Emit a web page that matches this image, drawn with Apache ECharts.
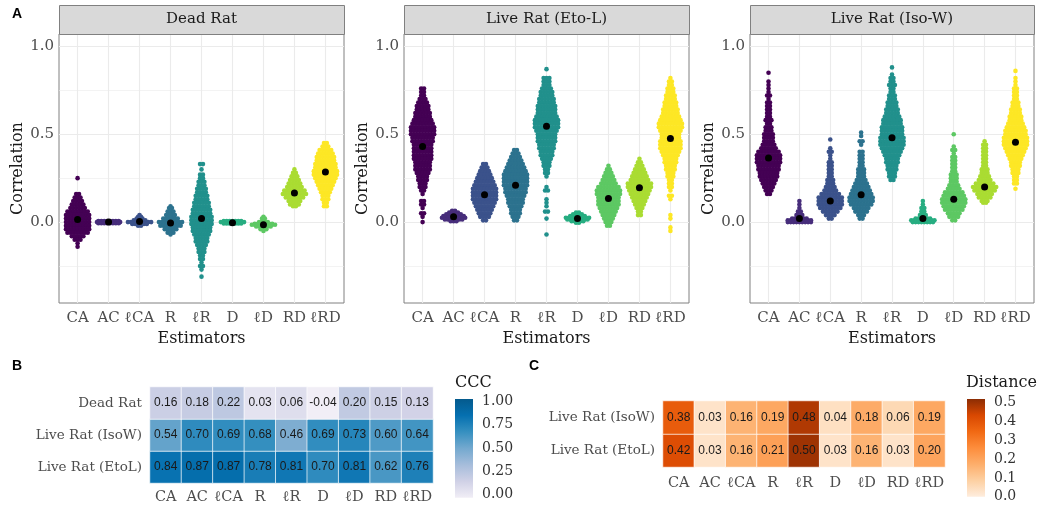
<!DOCTYPE html>
<html><head><meta charset="utf-8">
<script src="https://cdn.jsdelivr.net/npm/echarts@6/dist/echarts.min.js"></script>
<style>html,body{margin:0;padding:0;background:#fff}#c{width:1037px;height:508px}</style>
</head><body><div id="c"></div><script>
// ---------- data ----------
const estimators = ['CA','AC','ℓCA','R','ℓR','D','ℓD','RD','ℓRD'];
const facets = ['Dead Rat','Live Rat (Eto-L)','Live Rat (Iso-W)'];
const viridis9 = ['#440154','#472D7B','#3B528B','#2C728E','#21908C','#27AD81','#5DC863','#AADC32','#FDE725'];
const corrTicks = [0, 0.5, 1.0];
const corrGrid = [-0.25, 0, 0.25, 0.5, 0.75, 1.0];

const meanDead = [0.015, 0.0, 0.003, -0.005, 0.02, -0.003, -0.015, 0.165, 0.285];
const meanEto  = [0.43, 0.03, 0.155, 0.21, 0.545, 0.02, 0.135, 0.195, 0.475];
const meanIso  = [0.365, 0.02, 0.12, 0.155, 0.48, 0.02, 0.13, 0.20, 0.455];

// each swarm: rows of [correlation value, number of points at that value]
const swarmDead = [
  [[0.25,1],[0.16,2],[0.14,3],[0.12,4],[0.10,5],[0.08,6],[0.06,8],[0.04,9],[0.02,9],[0.0,9],[-0.02,9],[-0.04,9],[-0.06,8],[-0.08,5],[-0.10,3],[-0.12,1],[-0.14,1]],
  [[0.006,8],[0.0,9],[-0.006,8]],
  [[0.04,1],[0.03,2],[0.02,3],[0.01,5],[0.0,9],[-0.01,6],[-0.02,2]],
  [[0.09,1],[0.08,2],[0.06,3],[0.04,4],[0.02,6],[0.0,9],[-0.02,8],[-0.04,5],[-0.06,3],[-0.07,1]],
  [[0.33,2],[0.30,1],[0.27,2],[0.25,2],[0.23,3],[0.21,3],[0.19,4],[0.17,4],[0.15,5],[0.13,5],[0.11,6],[0.09,6],[0.07,7],[0.05,7],[0.03,8],[0.01,8],[-0.01,8],[-0.03,7],[-0.05,7],[-0.07,6],[-0.09,5],[-0.11,5],[-0.13,4],[-0.15,3],[-0.17,3],[-0.19,2],[-0.21,2],[-0.23,1],[-0.25,2],[-0.27,1],[-0.31,1]],
  [[0.006,7],[0.0,9],[-0.008,7]],
  [[0.03,1],[0.02,2],[0.0,4],[-0.01,7],[-0.015,9],[-0.025,6],[-0.04,3],[-0.05,1]],
  [[0.30,1],[0.28,2],[0.26,3],[0.24,4],[0.22,5],[0.20,6],[0.18,8],[0.16,9],[0.14,7],[0.12,5],[0.10,4],[0.09,2]],
  [[0.45,2],[0.43,3],[0.41,5],[0.39,6],[0.37,7],[0.35,7],[0.33,8],[0.31,8],[0.29,9],[0.27,9],[0.25,8],[0.23,7],[0.21,6],[0.19,5],[0.17,4],[0.15,3],[0.13,3],[0.11,2],[0.09,2]]
];
const swarmEto = [
  [[0.76,2],[0.74,2],[0.72,2],[0.70,3],[0.68,4],[0.66,5],[0.64,5],[0.62,6],[0.60,6],[0.58,7],[0.56,8],[0.54,9],[0.52,9],[0.50,9],[0.48,8],[0.46,8],[0.44,7],[0.42,7],[0.40,7],[0.38,7],[0.36,7],[0.34,6],[0.32,6],[0.30,6],[0.28,5],[0.26,4],[0.24,4],[0.22,3],[0.20,3],[0.18,2],[0.16,1],[0.12,2],[0.10,2],[0.08,1],[0.05,2],[0.03,1],[0.0,1]],
  [[0.065,2],[0.055,4],[0.045,6],[0.035,8],[0.025,9],[0.015,7],[0.005,3]],
  [[0.33,2],[0.31,3],[0.29,4],[0.27,5],[0.25,6],[0.23,7],[0.21,8],[0.19,9],[0.17,9],[0.15,9],[0.13,9],[0.11,8],[0.09,7],[0.07,6],[0.05,5],[0.03,4],[0.01,2]],
  [[0.41,2],[0.39,3],[0.37,4],[0.35,5],[0.33,6],[0.31,7],[0.29,8],[0.27,9],[0.25,9],[0.23,9],[0.21,9],[0.19,8],[0.17,8],[0.15,7],[0.13,6],[0.11,6],[0.09,5],[0.07,4],[0.05,4],[0.03,3],[0.01,2]],
  [[0.87,1],[0.82,3],[0.80,3],[0.78,3],[0.76,4],[0.74,5],[0.72,5],[0.70,6],[0.68,6],[0.66,7],[0.64,7],[0.62,7],[0.60,8],[0.58,9],[0.56,9],[0.54,9],[0.52,8],[0.50,7],[0.48,7],[0.46,7],[0.44,6],[0.42,6],[0.40,5],[0.38,5],[0.36,4],[0.34,3],[0.32,3],[0.30,2],[0.28,2],[0.26,1],[0.20,1],[0.18,2],[0.13,1],[0.11,1],[0.09,1],[0.06,2],[0.02,1],[-0.07,1]],
  [[0.055,2],[0.045,4],[0.035,6],[0.025,9],[0.015,8],[0.005,5],[-0.003,2]],
  [[0.32,1],[0.30,2],[0.28,3],[0.26,4],[0.24,5],[0.22,6],[0.20,8],[0.18,9],[0.16,9],[0.14,8],[0.12,8],[0.10,8],[0.08,7],[0.06,6],[0.04,5],[0.02,4],[0.0,3],[-0.02,2]],
  [[0.36,1],[0.34,2],[0.32,3],[0.30,4],[0.28,5],[0.26,6],[0.24,7],[0.22,9],[0.20,9],[0.18,8],[0.16,7],[0.14,6],[0.12,5],[0.10,4],[0.08,3],[0.06,2],[0.04,2]],
  [[0.82,1],[0.80,2],[0.78,2],[0.76,3],[0.74,3],[0.72,4],[0.70,4],[0.68,5],[0.66,5],[0.64,6],[0.62,6],[0.60,7],[0.58,8],[0.56,9],[0.54,9],[0.52,8],[0.50,7],[0.48,7],[0.46,8],[0.44,8],[0.42,8],[0.40,7],[0.38,6],[0.36,5],[0.34,5],[0.32,4],[0.30,4],[0.28,3],[0.26,3],[0.24,2],[0.22,2],[0.20,2],[0.18,1],[0.15,2],[0.13,1],[0.04,1],[0.02,1],[-0.03,1],[-0.05,1]]
];
const swarmIso = [
  [[0.85,1],[0.80,1],[0.78,1],[0.76,1],[0.74,1],[0.72,2],[0.70,1],[0.68,2],[0.66,2],[0.64,2],[0.62,2],[0.60,2],[0.58,3],[0.56,2],[0.54,3],[0.52,3],[0.50,4],[0.48,4],[0.46,4],[0.44,5],[0.42,6],[0.40,8],[0.38,9],[0.36,9],[0.34,9],[0.32,8],[0.30,8],[0.28,7],[0.26,7],[0.24,6],[0.22,5],[0.20,4],[0.18,3],[0.16,2]],
  [[0.12,1],[0.10,1],[0.08,1],[0.06,2],[0.04,3],[0.02,6],[0.01,9],[0.0,9]],
  [[0.47,1],[0.42,1],[0.40,2],[0.38,1],[0.36,1],[0.34,2],[0.32,2],[0.30,2],[0.28,2],[0.26,2],[0.24,3],[0.22,3],[0.20,4],[0.18,5],[0.16,7],[0.14,9],[0.12,9],[0.10,9],[0.08,8],[0.06,6],[0.04,4],[0.02,2]],
  [[0.51,1],[0.49,1],[0.46,2],[0.44,1],[0.40,2],[0.38,2],[0.36,2],[0.34,2],[0.32,2],[0.30,3],[0.28,3],[0.26,3],[0.24,4],[0.22,5],[0.20,6],[0.18,7],[0.16,8],[0.14,9],[0.12,9],[0.10,8],[0.08,6],[0.06,5],[0.04,3],[0.02,2]],
  [[0.88,1],[0.84,1],[0.82,2],[0.80,2],[0.78,3],[0.76,2],[0.74,2],[0.72,3],[0.70,3],[0.68,4],[0.66,4],[0.64,5],[0.62,5],[0.60,6],[0.58,7],[0.56,7],[0.54,8],[0.52,8],[0.50,8],[0.48,9],[0.46,9],[0.44,9],[0.42,8],[0.40,7],[0.38,6],[0.36,5],[0.34,5],[0.32,4],[0.30,4],[0.28,3],[0.26,3],[0.24,2]],
  [[0.12,1],[0.10,1],[0.08,2],[0.06,2],[0.04,3],[0.02,6],[0.01,9],[0.0,8]],
  [[0.50,1],[0.43,1],[0.41,2],[0.39,1],[0.37,2],[0.35,2],[0.33,2],[0.31,2],[0.29,2],[0.27,3],[0.25,3],[0.23,3],[0.21,4],[0.19,5],[0.17,7],[0.15,8],[0.13,9],[0.11,9],[0.09,8],[0.07,7],[0.05,5],[0.03,4],[0.01,2]],
  [[0.46,1],[0.44,2],[0.42,2],[0.40,2],[0.38,2],[0.36,2],[0.34,2],[0.32,2],[0.30,3],[0.28,3],[0.26,4],[0.24,5],[0.22,7],[0.20,9],[0.18,8],[0.16,6],[0.14,5],[0.12,3],[0.11,2]],
  [[0.86,1],[0.82,1],[0.80,1],[0.78,1],[0.76,2],[0.74,2],[0.72,2],[0.70,2],[0.68,3],[0.66,3],[0.64,4],[0.62,4],[0.60,5],[0.58,5],[0.56,6],[0.54,7],[0.52,8],[0.50,8],[0.48,9],[0.46,9],[0.44,9],[0.42,8],[0.40,7],[0.38,6],[0.36,5],[0.34,4],[0.32,4],[0.30,3],[0.28,3],[0.26,2],[0.24,2],[0.22,2],[0.19,1]]
];

// heatmap B (CCC), rows listed bottom-to-top
const cccRows = ['Live Rat (EtoL)','Live Rat (IsoW)','Dead Rat'];
const cccEto  = [0.84,0.87,0.87,0.78,0.81,0.70,0.81,0.62,0.76];
const cccIso  = [0.54,0.70,0.69,0.68,0.46,0.69,0.73,0.60,0.64];
const cccDead = [0.16,0.18,0.22,0.03,0.06,-0.04,0.20,0.15,0.13];
const cccTicks = [0, 0.25, 0.5, 0.75, 1.0];
// heatmap C (Distance), rows listed bottom-to-top
const distRows = ['Live Rat (EtoL)','Live Rat (IsoW)'];
const distEto = [0.42,0.03,0.16,0.21,0.50,0.03,0.16,0.03,0.20];
const distIso = [0.38,0.03,0.16,0.19,0.48,0.04,0.18,0.06,0.19];
const distTicks = [0, 0.1, 0.2, 0.3, 0.4, 0.5];

// ---------- styling ----------
const SERIF = 'DejaVu Serif';
const SANS = 'Liberation Sans';
const DOT_STEP = 2.9, DOT_SIZE = 4.6;
const cccColors = ['#F1EEF6','#D0D1E6','#A6BDDB','#74A9CF','#3690C0','#0570B0','#045A8D'];
const cccRange = [-0.04, 1.03];
const distColors = ['#FEEDDE','#FDD0A2','#FDAE6B','#FD8D3C','#F16913','#D94801','#8C2D04'];
const distRange = [0, 0.52];
const BORDER = '#808080';

function gradient(cols){
  return {type:'linear', x:0, y:0, x2:0, y2:1,
    colorStops: cols.slice().reverse().map((c,i,a)=>({offset:i/(a.length-1), color:c}))};
}

const facetLeft = [59, 404, 750], facetW = [285, 285, 284];
const PT = 34, PH = 269;
const grids = [], xAxes = [], yAxes = [], series = [], graphics = [];

[swarmDead, swarmEto, swarmIso].forEach((sw, fi) => {
  const means = [meanDead, meanEto, meanIso][fi];
  grids.push({left:facetLeft[fi], top:PT, width:facetW[fi], height:PH, show:true,
    borderColor:BORDER, borderWidth:1, backgroundColor:'#fff'});
  const idx = estimators.map((_, i) => i);
  xAxes.push({type:'value', gridIndex:fi, min:-0.6, max:8.6,
    name:'Estimators', nameLocation:'middle', nameGap:28,
    nameTextStyle:{fontFamily:SERIF, fontSize:16, color:'#1a1a1a'},
    axisLine:{show:false}, splitLine:{show:false},
    axisTick:{show:true, length:3, lineStyle:{color:'#333'}, customValues:idx},
    axisLabel:{customValues:idx, formatter:v => estimators[Math.round(v)],
      fontFamily:SERIF, fontSize:15, color:'#4D4D4D', margin:8}});
  yAxes.push({type:'value', gridIndex:fi, min:-0.46, max:1.07,
    name:'Correlation', nameLocation:'middle', nameGap:27, nameRotate:90,
    nameTextStyle:{fontFamily:SERIF, fontSize:16, color:'#1a1a1a'},
    axisLine:{show:false}, splitLine:{show:false},
    axisTick:{show:true, length:3, lineStyle:{color:'#333'}, customValues:corrTicks},
    axisLabel:{customValues:corrTicks, formatter:v => v.toFixed(1),
      fontFamily:SERIF, fontSize:15, color:'#4D4D4D', margin:5}});

  const items = [];
  sw.forEach((rows, ci) => {
    rows.forEach(([v, n]) => {
      for (let k = 0; k < n; k++) {
        items.push({value:[ci, v], symbolOffset:[(k - (n - 1) / 2) * DOT_STEP, 0],
          itemStyle:{color:viridis9[ci], opacity:1}});
      }
    });
  });
  const gl = [];
  corrGrid.forEach(v => gl.push({yAxis:v, lineStyle:{color:'#EBEBEB', width:(v*4)%2===0?1.1:0.6, type:'solid'}}));
  idx.forEach(i => gl.push({xAxis:i, lineStyle:{color:'#EBEBEB', width:1.1, type:'solid'}}));
  series.push({type:'scatter', xAxisIndex:fi, yAxisIndex:fi, data:items, symbol:'circle',
    symbolSize:DOT_SIZE, z:3, progressive:0, silent:true, itemStyle:{opacity:1},
    markLine:{silent:true, symbol:'none', z:1, label:{show:false}, animation:false, data:gl}});
  series.push({type:'scatter', xAxisIndex:fi, yAxisIndex:fi, z:4, silent:true,
    data:means.map((m, i) => [i, m]), symbolSize:7, itemStyle:{color:'#000', opacity:1}});

  graphics.push({type:'rect', left:facetLeft[fi], top:5,
    shape:{width:facetW[fi], height:PT - 5}, style:{fill:'#D9D9D9', stroke:BORDER, lineWidth:1}, z:10});
  graphics.push({type:'text', x:facetLeft[fi] + facetW[fi] / 2, y:5 + (PT - 5) / 2, z:11,
    style:{text:facets[fi], fontFamily:SERIF, fontSize:15, fill:'#1a1a1a', align:'center', verticalAlign:'middle'}});
});

// heatmap B
grids.push({left:150, top:387, width:283, height:96});
xAxes.push({type:'category', gridIndex:3, data:estimators, axisLine:{show:false}, axisTick:{show:false},
  splitLine:{show:false}, axisLabel:{interval:0, fontFamily:SERIF, fontSize:14.5, color:'#4D4D4D', margin:7}});
yAxes.push({type:'category', gridIndex:3, data:cccRows, axisLine:{show:false}, axisTick:{show:false},
  splitLine:{show:false}, axisLabel:{interval:0, fontFamily:SERIF, fontSize:13.5, color:'#4D4D4D', margin:8}});
const heatB = [];
[cccEto, cccIso, cccDead].forEach((row, ri) => row.forEach((v, ci) => heatB.push([ci, ri, v])));
series.push({type:'heatmap', xAxisIndex:3, yAxisIndex:3, data:heatB, silent:true,
  itemStyle:{borderColor:'#fff', borderWidth:0.7},
  label:{show:true, formatter:p => p.value[2].toFixed(2), fontFamily:SANS, fontSize:12, color:'#1a1a1a'}});

// heatmap C
grids.push({left:663, top:401, width:282, height:66});
xAxes.push({type:'category', gridIndex:4, data:estimators, axisLine:{show:false}, axisTick:{show:false},
  splitLine:{show:false}, axisLabel:{interval:0, fontFamily:SERIF, fontSize:14.5, color:'#4D4D4D', margin:9}});
yAxes.push({type:'category', gridIndex:4, data:distRows, axisLine:{show:false}, axisTick:{show:false},
  splitLine:{show:false}, axisLabel:{interval:0, fontFamily:SERIF, fontSize:13.5, color:'#4D4D4D', margin:8}});
const heatC = [];
[distEto, distIso].forEach((row, ri) => row.forEach((v, ci) => heatC.push([ci, ri, v])));
series.push({type:'heatmap', xAxisIndex:4, yAxisIndex:4, data:heatC, silent:true,
  itemStyle:{borderColor:'#fff', borderWidth:0.7},
  label:{show:true, formatter:p => p.value[2].toFixed(2), fontFamily:SANS, fontSize:12, color:'#1a1a1a'}});

// colorbars
function colorbar(gi, left, top, height, range, ticks, cols, digits){
  grids.push({left:left, top:top, width:18, height:height, show:true, borderWidth:0,
    backgroundColor:gradient(cols)});
  xAxes.push({type:'value', gridIndex:gi, show:false, min:0, max:1});
  yAxes.push({type:'value', gridIndex:gi, position:'right', min:range[0], max:range[1],
    axisLine:{show:false}, splitLine:{show:false},
    axisTick:{show:true, inside:true, length:4, lineStyle:{color:'#fff', width:1}, customValues:ticks},
    axisLabel:{customValues:ticks, formatter:v => v.toFixed(digits), fontFamily:SERIF, fontSize:14, color:'#333', margin:9}});
  series.push({type:'scatter', xAxisIndex:xAxes.length - 1, yAxisIndex:yAxes.length - 1, data:[]});
}
colorbar(5, 455, 399, 98.8, cccRange, cccTicks, cccColors, 2);
colorbar(6, 967, 399, 97.8, distRange, distTicks, distColors, 1);

graphics.push({type:'text', x:455, y:383, style:{text:'CCC', fontFamily:SERIF, fontSize:16, fill:'#1a1a1a', verticalAlign:'middle'}});
graphics.push({type:'text', x:966, y:383, style:{text:'Distance', fontFamily:SERIF, fontSize:16, fill:'#1a1a1a', verticalAlign:'middle'}});
graphics.push({type:'text', x:12, y:14, style:{text:'A', fontFamily:SANS, fontWeight:'bold', fontSize:14, fill:'#000', verticalAlign:'middle'}});
graphics.push({type:'text', x:12, y:366, style:{text:'B', fontFamily:SANS, fontWeight:'bold', fontSize:14, fill:'#000', verticalAlign:'middle'}});
graphics.push({type:'text', x:529, y:366, style:{text:'C', fontFamily:SANS, fontWeight:'bold', fontSize:14, fill:'#000', verticalAlign:'middle'}});

const chart = echarts.init(document.getElementById('c'), null, {renderer:'canvas'});
chart.setOption({
  animation:false,
  backgroundColor:'#fff',
  grid:grids, xAxis:xAxes, yAxis:yAxes, series:series, graphic:graphics,
  visualMap:[
    {type:'continuous', show:false, seriesIndex:6, min:cccRange[0], max:cccRange[1], inRange:{color:cccColors}},
    {type:'continuous', show:false, seriesIndex:7, min:distRange[0], max:distRange[1], inRange:{color:distColors}}
  ]
});
</script></body></html>
